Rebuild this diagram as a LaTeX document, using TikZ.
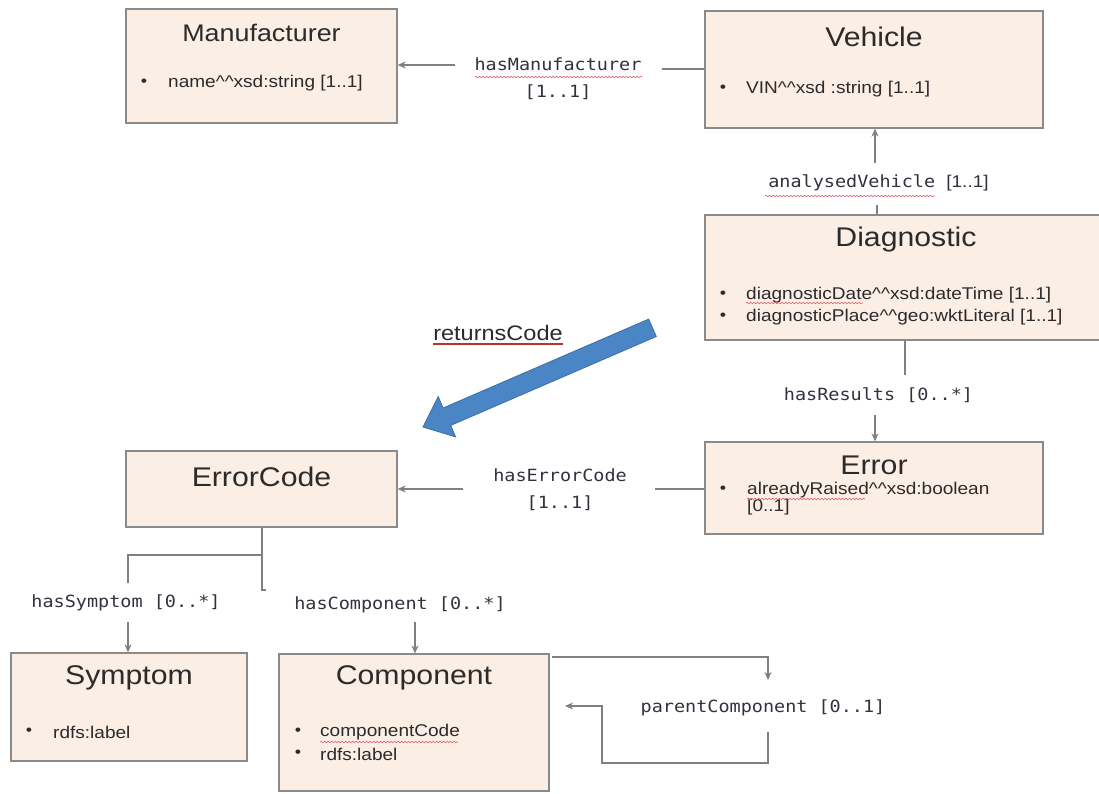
\documentclass[tikz,border=0pt]{standalone}
\usepackage{fontspec}
\setmainfont{Liberation Sans}[FakeStretch=1.12]
\setmonofont{DejaVu Sans Mono}[FakeStretch=1.1]
\usetikzlibrary{arrows.meta,decorations.pathmorphing}
\definecolor{boxfill}{HTML}{FBEEE5}
\definecolor{boxline}{HTML}{8A8A8A}
\definecolor{connc}{HTML}{808080}
\definecolor{lblc}{HTML}{36303E}
\definecolor{txtc}{HTML}{2B2B2B}
\definecolor{arrowblue}{HTML}{4A86C5}
\definecolor{arrowedge}{HTML}{3A6EA5}
\definecolor{squigc}{HTML}{E0606E}
\definecolor{ulred}{HTML}{C0302B}
\newcommand{\dcirc}{\textasciicircum\textasciicircum}
\tikzset{
  umlbox/.style={draw=boxline, fill=boxfill, line width=1.3pt, rectangle, inner sep=0pt},
  title/.style={font=\fontsize{27}{30}\selectfont, text=txtc, inner sep=0pt},
  mantitle/.style={font=\fontsize{24}{27}\selectfont, text=txtc, inner sep=0pt},
  item/.style={font=\fontsize{17}{19}\selectfont, text=txtc, anchor=west, inner sep=0pt},
  bul/.style={font=\fontsize{16}{18}\selectfont, text=txtc, inner sep=0pt},
  lab/.style={font=\ttfamily\fontsize{16.8}{27}\selectfont, text=lblc, inner sep=0pt, align=center},
  conn/.style={draw=connc, line width=1.1pt},
  arr/.style={conn, -{Stealth[length=8pt,width=7pt,inset=2.5pt]}},
  squiggle/.style={draw=squigc, line width=0.6pt, decorate, decoration={snake, amplitude=0.7pt, segment length=3.5pt}}
}
\begin{document}
\begin{tikzpicture}[x=1pt,y=-1pt]
\useasboundingbox (0,0) rectangle (1099,794);
\clip (0,0) rectangle (1099,794);
\fill[white] (0,0) rectangle (1099,794);

% boxes
\node[umlbox, minimum width=271pt, minimum height=114pt] (man) at (261.5,66) {};
\node[umlbox, minimum width=338pt, minimum height=117pt] (veh) at (874,69.5) {};
\node[umlbox, minimum width=410pt, minimum height=125pt] (diag) at (910,277.5) {};
\node[umlbox, minimum width=338pt, minimum height=92pt] (err) at (874,488) {};
\node[umlbox, minimum width=271pt, minimum height=76pt] (ec) at (261.5,489) {};
\node[umlbox, minimum width=236pt, minimum height=108pt] (sym) at (129,707) {};
\node[umlbox, minimum width=270pt, minimum height=137pt] (comp) at (414,722.5) {};

% titles
\node[mantitle] (manT) at (261.5,33) {Manufacturer};
\node[title] (vehT) at (874,37) {Vehicle};
\node[title] (diagT) at (906,240) {Diagnostic};
\node[title] (errT) at (874,465.5) {Error};
\node[title] (ecT) at (261.5,477) {ErrorCode};
\node[title] (symT) at (129,678) {Symptom};
\node[title] (compT) at (414,678) {Component};

% items
\node[bul] (manB1) at (144,83) {\textbullet};
\node[item] (manI1) at (168,83) {name\dcirc xsd:string [1..1]};
\node[bul] (vehB1) at (723,89) {\textbullet};
\node[item] (vehI1) at (746,89) {VIN\dcirc xsd :string [1..1]};
\node[bul] (diagB1) at (723,295) {\textbullet};
\node[item] (diagI1) at (746,295) {diagnosticDate\dcirc xsd:dateTime [1..1]};
\node[bul] (diagB2) at (723,317) {\textbullet};
\node[item] (diagI2) at (746,317) {diagnosticPlace\dcirc geo:wktLiteral [1..1]};
\node[bul] (errB1) at (723,490) {\textbullet};
\node[item] (errI1) at (747,490) {alreadyRaised\dcirc xsd:boolean};
\node[item] (errI2) at (747,507) {[0..1]};
\node[bul] (symB1) at (29,732) {\textbullet};
\node[item] (symI1) at (53,732) {rdfs:label};
\node[bul] (compB1) at (298,732) {\textbullet};
\node[item] (compI1) at (320,732) {componentCode};
\node[bul] (compB2) at (298,754) {\textbullet};
\node[item] (compI2) at (320,754) {rdfs:label};

% spell-check underlines
\draw[squiggle] (475,77) -- (642,77);
\draw[squiggle] (765,196) -- (935,196);
\draw[squiggle] (746,303) -- (863,303);
\draw[squiggle] (747,499) -- (865,499);
\draw[squiggle] (320,742) -- (458,742);

% labels
\node[lab] (lblHM) at (558,79) {hasManufacturer\\{[1..1]}};
\node[lab] (lblAV) at (878.5,183) {analysedVehicle {\rmfamily\fontsize{17}{19}\selectfont [1..1]}};
\node[lab] (lblHR) at (878.5,395) {hasResults [0..*]};
\node[lab] (lblHE) at (560,490) {hasErrorCode\\{[1..1]}};
\node[lab] (lblHS) at (126,603) {hasSymptom [0..*]};
\node[lab] (lblHC) at (400,605) {hasComponent [0..*]};
\node[lab] (lblPC) at (763,708) {parentComponent [0..1]};

% returnsCode block arrow
\node[font=\fontsize{21}{24}\selectfont, text=txtc, inner sep=0pt] (lblRC) at (498,333) {returnsCode};
\draw[ulred, line width=1.4pt] (lblRC.south west |- 0,344) -- (lblRC.south east |- 0,344);
\filldraw[fill=arrowblue, draw=arrowedge, line width=0.8pt]
  (423,427) -- (455.6,436.9) -- (450.7,425.4) -- (656.3,336.5) -- (648.7,319.1)
  -- (443.1,408.0) -- (438.2,396.5) -- cycle;

% connectors
\coordinate (hmR) at (662,69);
\coordinate (hmL) at (455,65);
\draw[conn] (veh.west |- hmR) -- (hmR);
\draw[arr] (hmL) -- (man.east |- hmL);

\coordinate (avB) at (877,205);
\coordinate (avT) at (875,163);
\draw[conn] (avB |- diag.north) -- (avB);
\draw[arr] (avT) -- (avT |- veh.south);

\coordinate (hrT) at (905,375);
\coordinate (hrB) at (875,415);
\draw[conn] (hrT |- diag.south) -- (hrT);
\draw[arr] (hrB) -- (hrB |- err.north);

\coordinate (heR) at (655,489);
\coordinate (heL) at (463,489);
\draw[conn] (err.west |- heR) -- (heR);
\draw[arr] (heL) -- (ec.east |- heL);

\coordinate (ecJ) at (262,555);
\coordinate (symEnd) at (128,583);
\coordinate (compHook) at (266,590);
\draw[conn] (ecJ |- ec.south) -- (ecJ) -| (symEnd);
\draw[conn] (ecJ) |- (compHook);
\coordinate (symA) at (128,622);
\draw[arr] (symA) -- (symA |- sym.north);
\coordinate (compA) at (415,622);
\draw[arr] (compA) -- (compA |- comp.north);

\coordinate (lpA) at (552,657);
\coordinate (lpB) at (768,680);
\coordinate (lpC) at (768,732);
\coordinate (lpD) at (602,763);
\coordinate (lpE) at (565,706);
\draw[arr] (lpA) -| (lpB);
\draw[arr] (lpC) |- (lpD) |- (lpE);
\end{tikzpicture}
\end{document}
